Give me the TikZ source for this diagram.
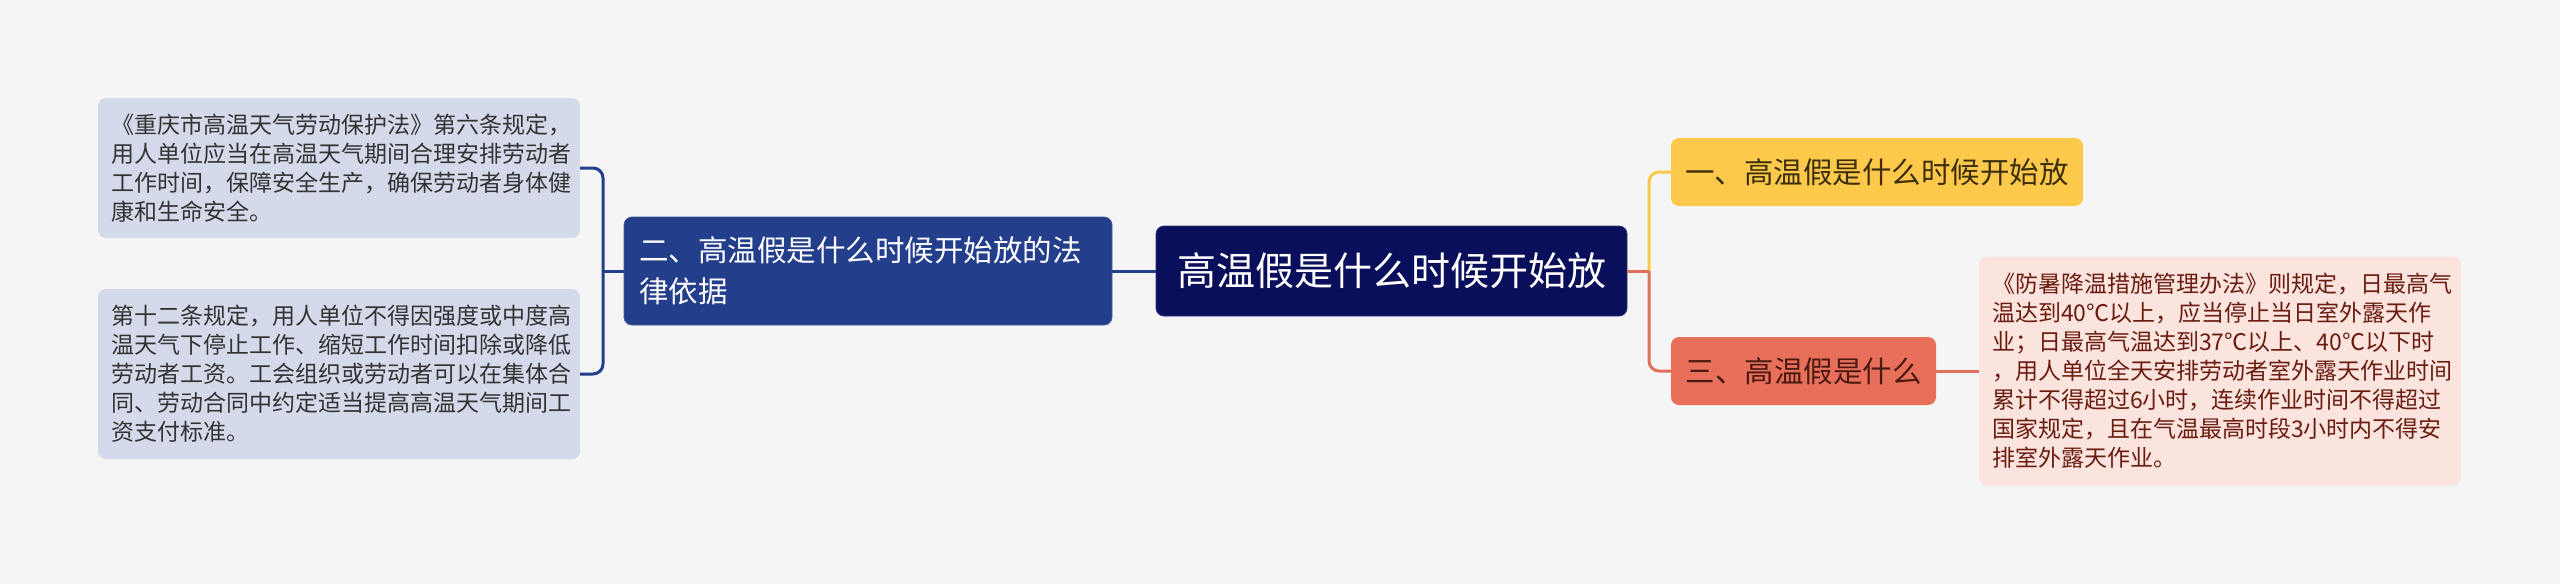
\documentclass[tikz,border=0pt]{standalone}
\usepackage{fontspec}
\setmainfont{Noto Sans CJK SC}
\definecolor{bg}{HTML}{F5F5F5}
\definecolor{leafL}{HTML}{D5DAEA}
\definecolor{leafLtext}{HTML}{333333}
\definecolor{branchblue}{HTML}{233E8B}
\definecolor{rootblue}{HTML}{0A0F5C}
\definecolor{rootedge}{HTML}{2A3278}
\definecolor{yel}{HTML}{FDC94A}
\definecolor{yeltext}{HTML}{3D2F0A}
\definecolor{yelline}{HTML}{F8C94A}
\definecolor{redn}{HTML}{E8705A}
\definecolor{redtext}{HTML}{4A1A10}
\definecolor{redline}{HTML}{E0705A}
\definecolor{leafR}{HTML}{FBE3DE}
\definecolor{leafRtext}{HTML}{6B1C10}
\begin{document}
\begin{tikzpicture}[x=1pt,y=-1pt,
  leafbox/.style={rounded corners=8pt, text width=456pt, inner xsep=13pt, inner ysep=0pt, align=left,
     font=\fontsize{23pt}{29pt}\selectfont},
  leftleaf/.style={leafbox, fill=leafL, text=leafLtext},
  rightleaf/.style={leafbox, fill=leafR, text=leafRtext},
  branchbox/.style={rounded corners=8pt, fill=branchblue, draw=branchblue!85!white, line width=0.8pt, text=white,
     text width=458pt, inner xsep=15pt, inner ysep=0pt, align=left, minimum height=108pt,
     font=\fontsize{29.5pt}{41pt}\selectfont},
  rootbox/.style={rounded corners=8pt, fill=rootblue, draw=rootedge, line width=0.8pt, text=white,
     minimum width=471pt, minimum height=90pt, inner sep=0pt, font=\fontsize{39pt}{46pt}\selectfont},
  topicbox/.style={rounded corners=8pt, minimum height=68pt, inner sep=0pt, font=\fontsize{29.5pt}{36pt}\selectfont},
  conn/.style={line width=3pt},
]
\useasboundingbox[fill=bg] (0,0) rectangle (2560,584);

\node[leftleaf, minimum height=140pt] (l1) at (339,168) {《重庆市高温天气劳动保护法》第六条规定，\\用人单位应当在高温天气期间合理安排劳动者\\工作时间，保障安全生产，确保劳动者身体健\\康和生命安全。};
\node[leftleaf, minimum height=170pt] (l2) at (339,374) {第十二条规定，用人单位不得因强度或中度高\\温天气下停止工作、缩短工作时间扣除或降低\\劳动者工资。工会组织或劳动者可以在集体合\\同、劳动合同中约定适当提高高温天气期间工\\资支付标准。};

\node[branchbox] (b2) at (868,271) {二、高温假是什么时候开始放的法\\律依据};
\node[rootbox] (root) at (1391.5,271) {高温假是什么时候开始放};

\node[topicbox, fill=yel, text=yeltext, minimum width=412pt] (t1) at (1877,172) {一、高温假是什么时候开始放};
\node[topicbox, fill=redn, text=redtext, minimum width=265pt] (t3) at (1803.5,371) {三、高温假是什么};

\node[rightleaf, minimum height=229pt] (r1) at (2220,371) {《防暑降温措施管理办法》则规定，日最高气\\温达到40℃以上，应当停止当日室外露天作\\业；日最高气温达到37℃以上、40℃以下时\\，用人单位全天安排劳动者室外露天作业时间\\累计不得超过6小时，连续作业时间不得超过\\国家规定，且在气温最高时段3小时内不得安\\排室外露天作业。};

\coordinate (jL) at (603,271);
\coordinate (jR) at (1649,271);

\draw[conn, branchblue] (root.west) -- (b2.east);
\draw[conn, branchblue] (b2.west) -- (jL);
\draw[conn, branchblue, rounded corners=10pt] (jL) |- (l1.east);
\draw[conn, branchblue, rounded corners=10pt] (jL) |- (l2.east);

\draw[conn, yelline, rounded corners=10pt] (jR) |- (t1.west);
\draw[conn, redline, rounded corners=10pt] (jR) |- (t3.west);
\draw[conn, redline] (root.east) -- (jR);
\draw[conn, redline] (t3.east) -- (r1.west);
\end{tikzpicture}
\end{document}
